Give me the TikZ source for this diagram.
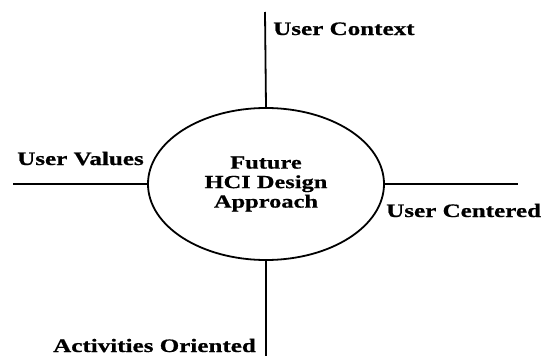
\documentclass[tikz,border=0pt]{standalone}
\usepackage{fontspec}
\setmainfont{Liberation Serif}[FakeStretch=1.32, BoldFeatures={FakeBold=0.7}]
\usetikzlibrary{shapes.geometric}
\begin{document}
\begin{tikzpicture}[x=1pt,y=-1pt,
  every node/.style={inner sep=0pt},
  hub/.style={ellipse, draw, line width=1.8pt, minimum width=236pt, minimum height=152pt,
    align=center, font=\fontsize{18.5}{19.5}\selectfont\bfseries},
  spoke/.style={line width=1.8pt},
  tag/.style={anchor=base west, font=\fontsize{19}{20}\selectfont\bfseries}]
  \useasboundingbox (0,0) rectangle (552,356);

  % central ellipse
  \node[hub] (hub) at (266,184) {Future\\HCI Design\\Approach};

  % free ends of the four spokes
  \coordinate (topend) at (265,12);
  \coordinate (botend) at (266,356);
  \coordinate (leftend) at (13,184);
  \coordinate (rightend) at (518,184);

  \draw[spoke] (hub.north) -- (topend);
  \draw[spoke] (hub.south) -- (botend);
  \draw[spoke] (hub.west) -- (leftend);
  \draw[spoke] (hub.east) -- (rightend);

  % spoke labels
  \node[tag] (ctx) at (273,35) {User Context};
  \node[tag] (val) at (17,165) {User Values};
  \node[tag] (cen) at (386,217) {User Centered};
  \node[tag] (act) at (53,352) {Activities Oriented};
\end{tikzpicture}
\end{document}
